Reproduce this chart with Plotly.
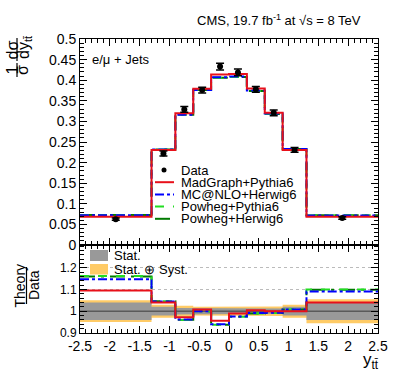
import numpy as np
import plotly.graph_objects as go
from plotly.subplots import make_subplots

# binning in y_ttbar
edges = [-2.5, -1.3, -0.9, -0.6, -0.3, 0.0, 0.3, 0.6, 0.9, 1.3, 2.5]

# normalised cross section, data
data_val = [0.063, 0.222, 0.329, 0.376, 0.433, 0.419, 0.378, 0.321, 0.231, 0.066]
data_err = [0.003, 0.006, 0.007, 0.007, 0.008, 0.008, 0.007, 0.007, 0.006, 0.003]

# theory predictions, top panel
madgraph = [0.069, 0.231, 0.320, 0.379, 0.414, 0.415, 0.380, 0.321, 0.231, 0.0686]
mcatnlo = [0.0723, 0.232, 0.3165, 0.376, 0.407, 0.409, 0.375, 0.319, 0.233, 0.072]
powheg_py = [0.0732, 0.232, 0.316, 0.376, 0.406, 0.408, 0.374, 0.318, 0.233, 0.0726]
powheg_hw = [0.0731, 0.2322, 0.3162, 0.376, 0.406, 0.408, 0.374, 0.318, 0.233, 0.0725]

# theory / data, bottom panel
r_madgraph = [1.095, 1.04, 0.972, 1.008, 0.956, 0.99, 1.005, 1.0, 1.0, 1.04]
r_mcatnlo = [1.148, 1.045, 0.962, 1.0, 0.94, 0.976, 0.992, 0.993, 1.008, 1.091]
r_powheg_py = [1.162, 1.046, 0.96, 1.0, 0.938, 0.974, 0.99, 0.992, 1.008, 1.1]
r_powheg_hw = [1.16, 1.046, 0.961, 1.0, 0.938, 0.974, 0.99, 0.992, 1.008, 1.099]

# relative uncertainties (half widths)
stat_unc = [0.04, 0.02, 0.015, 0.012, 0.012, 0.012, 0.012, 0.012, 0.02, 0.04]
tot_unc = [0.05, 0.03, 0.025, 0.02, 0.02, 0.02, 0.02, 0.022, 0.03, 0.055]

xtick_vals = [-2.5, -2, -1.5, -1, -0.5, 0, 0.5, 1, 1.5, 2, 2.5]
xtick_text = ['-2.5', '-2', '-1.5', '-1', '-0.5', '0', '0.5', '1', '1.5', '2', '2.5']
rtick_vals = [0.9, 1.0, 1.1, 1.2]
rtick_text = ['0.9', '1', '1.1', '1.2']

centers = [(edges[i] + edges[i + 1]) / 2 for i in range(len(edges) - 1)]

# styles: name, color, dash, top values, ratio values
models = [
    ('Powheg+Herwig6', '#007a00', 'longdashdot', powheg_hw, r_powheg_hw),
    ('Powheg+Pythia6', '#22dd22', 'dash', powheg_py, r_powheg_py),
    ('MC@NLO+Herwig6', '#0000ff', 'dashdot', mcatnlo, r_mcatnlo),
    ('MadGraph+Pythia6', '#e8101a', 'solid', madgraph, r_madgraph),
]

FONT = 'Liberation Sans'

fig = make_subplots(rows=2, cols=1, shared_xaxes=True, vertical_spacing=0,
                    row_heights=[0.701, 0.299])


def step(v):
    return list(v) + [v[-1]]


def band(half):
    xs = np.repeat(edges, 2)[1:-1]
    up = 1 + np.repeat(half, 2)
    lo = 1 - np.repeat(half, 2)
    return np.concatenate([xs, xs[::-1]]), np.concatenate([up, lo[::-1]])


# top panel
for name, col, dash, vals, _ in models:
    fig.add_trace(go.Scatter(x=edges, y=step(vals), mode='lines', line_shape='hv',
                             line=dict(color=col, width=2, dash=dash), name=name,
                             showlegend=False), row=1, col=1)

fig.add_trace(go.Scatter(x=centers, y=data_val, mode='markers',
                         marker=dict(color='black', size=6),
                         error_y=dict(type='data', array=data_err, color='black',
                                      thickness=1.5, width=4),
                         name='Data', showlegend=False), row=1, col=1)

# bottom panel: bands
bx, by = band(tot_unc)
fig.add_trace(go.Scatter(x=bx, y=by, fill='toself', fillcolor='#ffcb66',
                         line=dict(width=0), mode='lines', showlegend=False), row=2, col=1)
bx, by = band(stat_unc)
fig.add_trace(go.Scatter(x=bx, y=by, fill='toself', fillcolor='#999999',
                         line=dict(width=0), mode='lines', showlegend=False), row=2, col=1)
fig.add_trace(go.Scatter(x=[edges[0], edges[-1]], y=[1, 1], mode='lines',
                         line=dict(color='#5a5a5a', width=1.5), showlegend=False), row=2, col=1)

for name, col, dash, _, rvals in models:
    fig.add_trace(go.Scatter(x=edges, y=step(rvals), mode='lines', line_shape='hv',
                             line=dict(color=col, width=2, dash=dash),
                             showlegend=False), row=2, col=1)

axis_common = dict(showline=True, linecolor='black', linewidth=1, mirror='ticks',
                   ticks='inside', ticklen=7, tickwidth=1, tickcolor='black',
                   zeroline=False, showgrid=False)

fig.update_xaxes(**axis_common, range=[-2.5, 2.5], tickvals=xtick_vals,
                 minor=dict(ticks='inside', ticklen=4, dtick=0.1, tickcolor='black'))
fig.update_xaxes(showticklabels=False, row=1, col=1)
fig.update_xaxes(ticktext=xtick_text, tickfont=dict(size=14), row=2, col=1)

fig.update_yaxes(**axis_common)
fig.update_yaxes(range=[0, 0.5], dtick=0.05, tick0=0, tickfont=dict(size=14),
                 minor=dict(ticks='inside', ticklen=4, dtick=0.01, tickcolor='black'),
                 row=1, col=1)
fig.update_yaxes(range=[0.8995, 1.305], tickvals=rtick_vals, ticktext=rtick_text,
                 tickfont=dict(size=12),
                 showgrid=True, gridcolor='#bbbbbb', griddash='dot', gridwidth=1,
                 minor=dict(ticks='inside', ticklen=4, dtick=0.02, tick0=0.9,
                            tickcolor='black'),
                 row=2, col=1)

# paper coordinate helpers (plot area 80..378 x 39..333 px)
def px(x):
    return (x - 80) / 298


def py(y):
    return (333 - y) / 294


ann = []
shapes = []

# CMS label and channel
ann.append(dict(text='CMS, 19.7 fb<sup>-1</sup> at √s = 8 TeV', x=px(363), y=py(20),
                xanchor='right', yanchor='middle', font=dict(size=13)))
ann.append(dict(text='e/μ + Jets', x=px(90), y=py(60), xanchor='left', yanchor='middle',
                font=dict(size=13)))

# y title top: 1/sigma dsigma/dy
for t, x, y in [('1', 11.5, 70), ('σ', 22, 70), ('dσ', 11.5, 50), ('dy<sub>tt̄</sub>', 24, 47)]:
    ann.append(dict(text=t, x=px(x), y=py(y), xanchor='center', yanchor='middle',
                    textangle=-90, font=dict(size=16)))
for y0, y1 in [(63, 77), (38, 61)]:
    shapes.append(dict(type='line', xref='paper', yref='paper', x0=px(17), x1=px(17),
                       y0=py(y0), y1=py(y1), line=dict(color='black', width=1.2)))

# ratio title
ann.append(dict(text='Theory', x=px(19), y=py(285.5), textangle=-90, xanchor='center',
                yanchor='middle', font=dict(size=14)))
ann.append(dict(text='Data', x=px(33.5), y=py(285.5), textangle=-90, xanchor='center',
                yanchor='middle', font=dict(size=14)))
shapes.append(dict(type='line', xref='paper', yref='paper', x0=px(26.5), x1=px(26.5),
                   y0=py(267), y1=py(304), line=dict(color='black', width=1.2)))

# x title
ann.append(dict(text='y<sub>tt̄</sub>', x=px(381), y=py(348), xanchor='right', yanchor='top',
                font=dict(size=17)))

# top legend (manual, tight spacing)
rows = [170, 182.2, 194.4, 206.6, 218.8]
labels = ['Data', 'MadGraph+Pythia6', 'MC@NLO+Herwig6', 'Powheg+Pythia6', 'Powheg+Herwig6']
for yy, lab in zip(rows, labels):
    ann.append(dict(text=lab, x=px(179), y=py(yy), xanchor='left', yanchor='middle',
                    font=dict(size=13)))
shapes.append(dict(type='circle', xref='paper', yref='paper', x0=px(161.5), x1=px(166.5),
                   y0=py(rows[0] - 2.5), y1=py(rows[0] + 2.5), fillcolor='black',
                   line=dict(color='black', width=0)))
leg_styles = [('#e8101a', 'solid'), ('#0000ff', 'dashdot'), ('#22dd22', 'dash'),
              ('#007a00', 'longdashdot')]
for yy, (col, dash) in zip(rows[1:], leg_styles):
    shapes.append(dict(type='line', xref='paper', yref='paper', x0=px(155), x1=px(174),
                       y0=py(yy), y1=py(yy), line=dict(color=col, width=2, dash=dash)))

# ratio legend
shapes.append(dict(type='rect', xref='paper', yref='paper', x0=px(81), x1=px(184),
                   y0=py(275.5), y1=py(246), fillcolor='white', line=dict(width=0),
                   layer='between'))
shapes.append(dict(type='rect', xref='paper', yref='paper', x0=px(90), x1=px(108),
                   y0=py(261), y1=py(250), fillcolor='#999999', line=dict(width=0)))
shapes.append(dict(type='rect', xref='paper', yref='paper', x0=px(90), x1=px(108),
                   y0=py(274.5), y1=py(264), fillcolor='#ffcb66', line=dict(width=0)))
ann.append(dict(text='Stat.', x=px(112), y=py(255.5), xanchor='left', yanchor='middle',
                font=dict(size=13)))
ann.append(dict(text='Stat. ⊕ Syst.', x=px(112), y=py(269), xanchor='left', yanchor='middle',
                font=dict(size=13)))

for a in ann:
    a.setdefault('xref', 'paper')
    a.setdefault('yref', 'paper')
    a.setdefault('showarrow', False)

fig.update_layout(
    width=399, height=383,
    margin=dict(l=80, r=21, t=39, b=50),
    plot_bgcolor='white', paper_bgcolor='white',
    font=dict(family=FONT, color='black'),
    showlegend=False,
    annotations=ann,
    shapes=shapes,
)

fig.write_html('out.html', config={'displayModeBar': False},
               post_script="document.body.style.margin='0';document.body.style.overflow='hidden';")
